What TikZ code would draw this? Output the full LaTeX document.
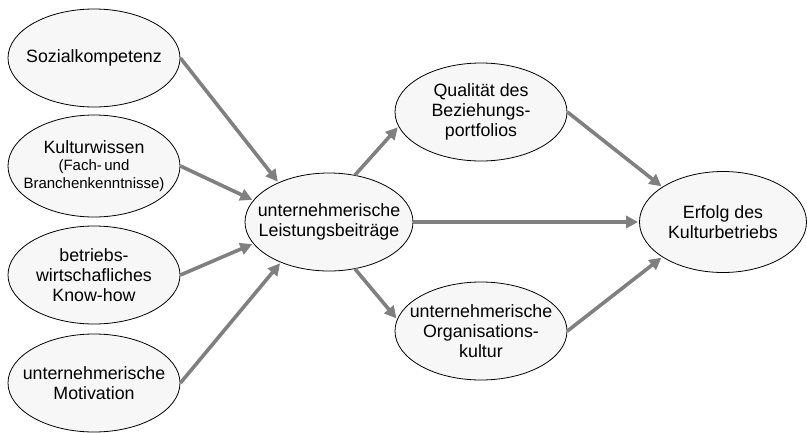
\documentclass[tikz,border=0pt]{standalone}
\usepackage{fontspec}
\setmainfont{Liberation Sans}
\usetikzlibrary{arrows.meta,shapes.geometric}

\begin{document}
\begin{tikzpicture}[x=1pt,y=-1pt,
        factor/.style={ellipse,draw=black,line width=0.8pt,fill=black!3,
          minimum width=172pt,minimum height=98pt,inner xsep=-22pt,inner ysep=-16pt,
          align=center,font=\fontsize{17.8}{19.8}\selectfont},
        link/.style={draw=black!50,line width=3.6pt,
          -{Triangle[length=12pt,width=12pt]},shorten >=1pt}]

  \useasboundingbox (0,0) rectangle (807,432);

  \node[factor] (soz)  at (94,58)   {Sozialkompetenz};
  \node[factor,minimum height=102pt] (kult) at (94,166)
        {Kulturwissen\\[-2pt]{\fontsize{15}{16.5}\selectfont(Fach-\,und}\\[-2pt]
         {\fontsize{15}{16.5}\selectfont Branchenkenntnisse)}};
  \node[factor] (betr) at (94,275)  {betriebs-\\wirtschafliches\\Know-how};
  \node[factor] (mot)  at (94,383)  {unternehmerische\\Motivation};

  \node[factor,minimum width=168pt] (lb)   at (329,222) {unternehmerische\\Leistungsbeiträge};

  \node[factor] (qual) at (481,112) {Qualität des\\Beziehungs-\\portfolios};
  \node[factor] (org)  at (481,331) {unternehmerische\\Organisations-\\kultur};

  \node[factor,minimum width=167pt,minimum height=101pt] (erf) at (723,222)
        {Erfolg des\\Kulturbetriebs};

  \path (soz.east)  edge[link] (lb.142)
        (kult.east) edge[link] (lb.164)
        (betr.east) edge[link] (lb.196)
        (mot.east)  edge[link] (lb.220)
        (lb.61)     edge[link] (qual.190)
        (lb.east)   edge[link] (erf.west)
        (lb.-61)    edge[link] (org.172)
        (qual.east) edge[link] (erf.150)
        (org.east)  edge[link] (erf.210);

\end{tikzpicture}
\end{document}
